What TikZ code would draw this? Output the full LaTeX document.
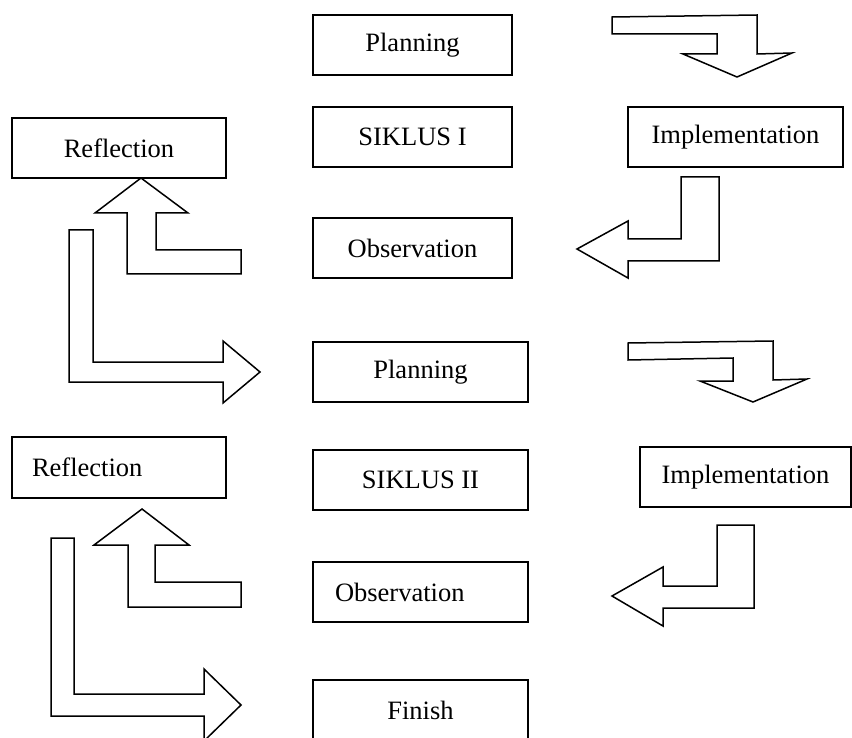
\documentclass[tikz,border=0pt]{standalone}
\usepackage{fontspec}
\setmainfont{Liberation Serif}
\begin{document}
\begin{tikzpicture}[x=1pt,y=-1pt,
  box/.style={draw, line width=1.5pt, minimum height=60pt, inner sep=0pt,
    font=\fontsize{26.5}{30}\selectfont},
  leftbox/.style={box, align=left},
  blockarrow/.style={draw, line width=1.5pt, fill=white, line join=miter}]
\clip (0,0) rectangle (852,738);
\fill[white] (0,0) rectangle (852,738);
% boxes
\node[box, minimum width=199pt] (plan1) at (412.5,45) {Planning};
\node[box, minimum width=199pt] (sik1) at (412.5,137) {SIKLUS I};
\node[box, minimum width=199pt] (obs1) at (412.5,248) {Observation};
\node[box, minimum width=214pt] (ref1) at (119,148) {Reflection};
\node[box, minimum width=215pt] (imp1) at (735.5,137) {Implementation};
\node[box, minimum width=215pt] (plan2) at (420.5,372) {Planning};
\node[box, minimum width=215pt] (sik2) at (420.5,480) {SIKLUS II};
\node[leftbox, text width=171pt, inner xsep=22pt] (obs2) at (420.5,592) {Observation};
\node[box, minimum width=215pt] (fin) at (420.5,710) {Finish};
\node[leftbox, text width=174pt, inner xsep=20pt, minimum height=61pt] (ref2) at (119,467.5) {Reflection};
\node[box, minimum width=211pt] (imp2) at (745.5,477) {Implementation};
% block arrows
\draw[blockarrow] (612,17) -- (757,15) -- (757,54) -- (792,53) -- (737,77) -- (683,54) -- (717,54) -- (717,34) -- (612,34) -- cycle;
\draw[blockarrow] (681,177) -- (719,177) -- (719,261) -- (628,261) -- (628,278) -- (577,249) -- (628,221) -- (628,239) -- (681,239) -- cycle;
\draw[blockarrow] (141,178) -- (188,213) -- (156,213) -- (156,250) -- (241,250) -- (241,274) -- (127,274) -- (127,213) -- (95,213) -- cycle;
\draw[blockarrow] (69,230) -- (93,230) -- (93,362) -- (223,362) -- (223,341) -- (260,372) -- (223,403) -- (223,382) -- (69,382) -- cycle;
\draw[blockarrow] (628,343) -- (773,341) -- (773,380) -- (807,379) -- (753,402) -- (700,381) -- (733,381) -- (733,358) -- (628,360) -- cycle;
\draw[blockarrow] (717,525) -- (754,525) -- (754,608) -- (663,608) -- (663,626) -- (612,596) -- (663,567) -- (663,586) -- (717,586) -- cycle;
\draw[blockarrow] (142,509) -- (189,545) -- (155,545) -- (155,582) -- (241,582) -- (241,607) -- (128,607) -- (128,545) -- (94,545) -- cycle;
\draw[blockarrow] (51,538) -- (74,538) -- (74,694) -- (204,694) -- (204,669) -- (241,705) -- (204,741) -- (204,716) -- (51,716) -- cycle;
\end{tikzpicture}
\end{document}
